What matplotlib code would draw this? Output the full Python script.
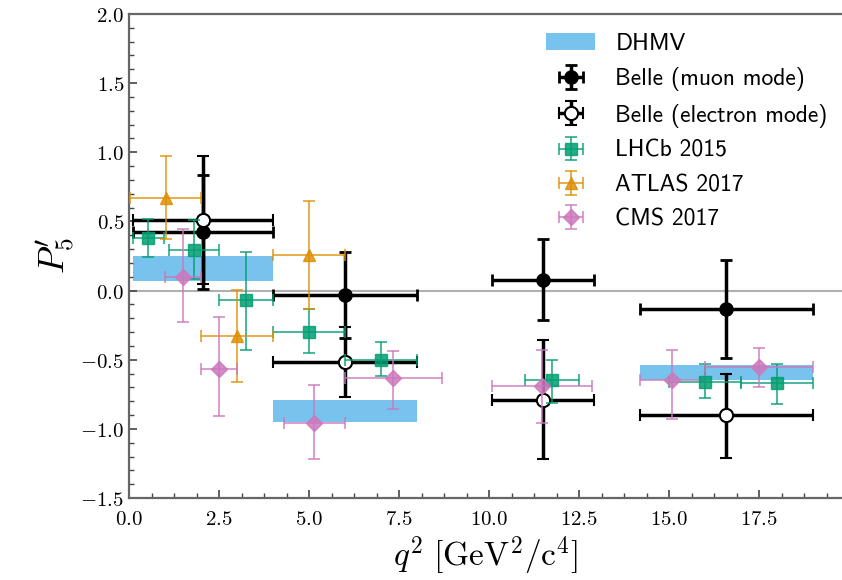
import numpy as np
import matplotlib.pyplot as plt
from matplotlib.ticker import MultipleLocator, FuncFormatter

plt.rcParams['mathtext.fontset'] = 'cm'

# DHMV prediction bands (bin edges and band limits)
dhmv_lo_edge = [0.1, 4.0, 14.18]
dhmv_hi_edge = [4.0, 8.0, 19.0]
dhmv_low = [0.07, -0.95, -0.65]
dhmv_high = [0.25, -0.79, -0.54]

# Belle muon mode
mu_x = [2.05, 6.0, 11.495, 16.59]
mu_xerr = [1.95, 2.0, 1.405, 2.41]
mu_y = [0.42, -0.03, 0.08, -0.13]
mu_err_lo = [0.41, 0.31, 0.29, 0.36]
mu_err_hi = [0.415, 0.31, 0.29, 0.35]

# Belle electron mode
el_x = [2.05, 6.0, 11.495, 16.59]
el_xerr = [1.95, 2.0, 1.405, 2.41]
el_y = [0.51, -0.52, -0.79, -0.90]
el_err_lo = [0.46, 0.25, 0.43, 0.31]
el_err_hi = [0.465, 0.26, 0.43, 0.30]

# LHCb 2015
lhcb_x = [0.54, 1.8, 3.25, 5.0, 7.0, 11.75, 16.0, 18.0]
lhcb_xerr = [0.44, 0.7, 0.75, 1.0, 1.0, 0.75, 1.0, 1.0]
lhcb_y = [0.38, 0.29, -0.07, -0.30, -0.50, -0.65, -0.66, -0.67]
lhcb_err_lo = [0.14, 0.205, 0.36, 0.15, 0.12, 0.16, 0.12, 0.15]
lhcb_err_hi = [0.14, 0.22, 0.35, 0.17, 0.13, 0.15, 0.13, 0.14]

# ATLAS 2017
atlas_x = [1.02, 3.0, 5.0]
atlas_xerr = [0.98, 1.0, 1.0]
atlas_y = [0.67, -0.33, 0.26]
atlas_err_lo = [0.30, 0.33, 0.39]
atlas_err_hi = [0.30, 0.335, 0.39]

# CMS 2017
cms_x = [1.5, 2.5, 5.15, 7.34, 11.475, 15.09, 17.5]
cms_xerr = [0.5, 0.5, 0.85, 1.34, 1.385, 0.91, 1.5]
cms_y = [0.10, -0.57, -0.955, -0.635, -0.69, -0.65, -0.555]
cms_err_lo = [0.33, 0.34, 0.26, 0.225, 0.27, 0.28, 0.145]
cms_err_hi = [0.345, 0.38, 0.275, 0.20, 0.26, 0.22, 0.14]

fig = plt.figure(figsize=(8.42, 5.8), dpi=100)
ax = fig.add_axes([129/842, 82/580, 713/842, 484/580])

ax.axhline(0, color='#b0b0b0', lw=1.5, zorder=1)

lo = np.array(dhmv_lo_edge)
hi = np.array(dhmv_hi_edge)
ax.bar((lo + hi) / 2, np.array(dhmv_high) - np.array(dhmv_low), width=hi - lo,
       bottom=dhmv_low, color='#56b4e9', alpha=0.8, lw=0, zorder=2, label='DHMV')

ax.errorbar(mu_x, mu_y, xerr=mu_xerr, yerr=[mu_err_lo, mu_err_hi], fmt='o', color='k',
            ms=9.5, elinewidth=2.5, capsize=4, capthick=2, zorder=3, label='Belle (muon mode)')
ax.errorbar(el_x, el_y, xerr=el_xerr, yerr=[el_err_lo, el_err_hi], fmt='o', color='k',
            mfc='white', mec='k', mew=1.5, ms=9.5, elinewidth=2.5, capsize=4, capthick=2,
            zorder=3, label='Belle (electron mode)')

ax.errorbar(lhcb_x, lhcb_y, xerr=lhcb_xerr, yerr=[lhcb_err_lo, lhcb_err_hi], fmt='s',
            color='#029e73', ms=8, elinewidth=1.2, capsize=4, capthick=1.2, alpha=0.85,
            zorder=4, label='LHCb 2015')
ax.errorbar(atlas_x, atlas_y, xerr=atlas_xerr, yerr=[atlas_err_lo, atlas_err_hi], fmt='^',
            color='#de8f05', ms=8, elinewidth=1.2, capsize=4, capthick=1.2, alpha=0.85,
            zorder=4, label='ATLAS 2017')
ax.errorbar(cms_x, cms_y, xerr=cms_xerr, yerr=[cms_err_lo, cms_err_hi], fmt='D',
            color='#cc78bc', ms=8, elinewidth=1.2, capsize=4, capthick=1.2, alpha=0.85,
            zorder=4, label='CMS 2017')

ax.set_xlim(0, 19.8)
ax.set_ylim(-1.5, 2.0)
ax.xaxis.set_major_locator(MultipleLocator(2.5))
ax.xaxis.set_minor_locator(MultipleLocator(0.625))
ax.yaxis.set_major_locator(MultipleLocator(0.5))
ax.yaxis.set_minor_locator(MultipleLocator(0.1))
fmt = FuncFormatter(lambda v, p: f'${v:.1f}$')
ax.xaxis.set_major_formatter(fmt)
ax.yaxis.set_major_formatter(fmt)
ax.tick_params(which='both', direction='in', top=False, right=False, labelsize=15,
               color='#444444')
ax.tick_params(which='major', length=6, width=1.2)
ax.tick_params(which='minor', length=3.5, width=1.0)
ax.tick_params(axis='x', which='major', pad=8)

ax.spines['right'].set_visible(False)
for s in ['left', 'bottom', 'top']:
    ax.spines[s].set_color('#666666')
    ax.spines[s].set_linewidth(1.6)

ax.set_xlabel(r'$q^2\ [\mathrm{GeV}^2/\mathrm{c}^4]$', fontsize=24, labelpad=4)
ax.set_ylabel(r"$P_5'$", fontsize=26, labelpad=2)

ax.legend(loc='upper right', bbox_to_anchor=(1.0, 0.99), frameon=False,
          prop={'family': 'cmss10', 'size': 17}, handlelength=2.08, handletextpad=0.85,
          labelspacing=0.52, borderaxespad=0.2)

fig.savefig('out.png', dpi=100)
